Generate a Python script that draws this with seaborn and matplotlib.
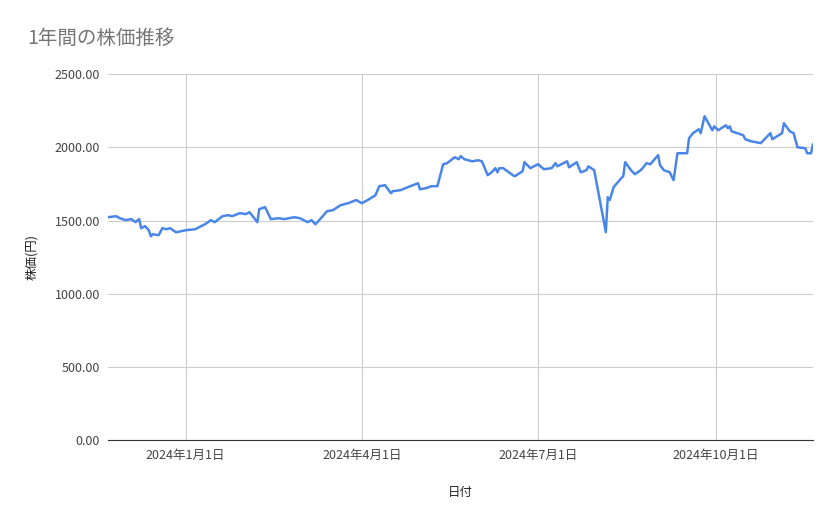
import matplotlib
matplotlib.use("Agg")
import matplotlib.pyplot as plt
import matplotlib.dates as mdates
import seaborn as sns
import pandas as pd

dates = ["2023-11-22","2023-11-26","2023-11-28","2023-12-01","2023-12-04","2023-12-06","2023-12-08","2023-12-09",
"2023-12-11","2023-12-13","2023-12-14","2023-12-15","2023-12-18","2023-12-20","2023-12-22","2023-12-24","2023-12-27",
"2024-01-01","2024-01-06","2024-01-09","2024-01-11","2024-01-14","2024-01-16","2024-01-20","2024-01-23","2024-01-25",
"2024-01-29","2024-02-01","2024-02-03","2024-02-07","2024-02-08","2024-02-11","2024-02-14","2024-02-18","2024-02-21",
"2024-02-26","2024-02-29","2024-03-04","2024-03-06","2024-03-08","2024-03-10","2024-03-14","2024-03-17","2024-03-21",
"2024-03-25","2024-03-29","2024-04-01","2024-04-04","2024-04-08","2024-04-10","2024-04-13","2024-04-16","2024-04-17",
"2024-04-21","2024-04-26","2024-04-30","2024-05-01","2024-05-04","2024-05-07","2024-05-10","2024-05-13","2024-05-15",
"2024-05-19","2024-05-21","2024-05-22","2024-05-24","2024-05-28","2024-05-31","2024-06-02","2024-06-05","2024-06-07",
"2024-06-09","2024-06-10","2024-06-11","2024-06-13","2024-06-18","2024-06-19","2024-06-23","2024-06-24","2024-06-27",
"2024-07-01","2024-07-04","2024-07-08","2024-07-10","2024-07-11","2024-07-16","2024-07-17","2024-07-21","2024-07-23",
"2024-07-26","2024-07-27","2024-07-30","2024-08-05","2024-08-06","2024-08-07","2024-08-09","2024-08-13","2024-08-14",
"2024-08-15","2024-08-18","2024-08-20","2024-08-23","2024-08-24","2024-08-26","2024-08-28","2024-09-01","2024-09-02",
"2024-09-04","2024-09-07","2024-09-09","2024-09-11","2024-09-16","2024-09-17","2024-09-19","2024-09-22","2024-09-23",
"2024-09-25","2024-09-29","2024-09-30","2024-10-02","2024-10-06","2024-10-07","2024-10-08","2024-10-09","2024-10-15",
"2024-10-16","2024-10-19","2024-10-24","2024-10-29","2024-10-30","2024-11-04","2024-11-05","2024-11-08","2024-11-10",
"2024-11-12","2024-11-16","2024-11-17","2024-11-19","2024-11-20"]
prices = [1523,1530,1516,1503,1510,1489,1510,1448,
1462,1434,1393,1407,1400,1448,1441,1448,1420,
1434,1441,1462,1475,1503,1489,1530,1537,1530,
1551,1544,1557,1489,1578,1592,1510,1516,1510,
1523,1516,1489,1503,1475,1503,1564,1571,1605,
1619,1640,1619,1640,1673,1735,1742,1687,1701,
1708,1735,1755,1714,1721,1735,1735,1885,1892,
1933,1919,1940,1919,1905,1912,1905,1810,1830,
1858,1830,1858,1858,1810,1803,1837,1899,1858,
1885,1851,1858,1892,1871,1905,1864,1899,1830,
1844,1871,1844,1421,1660,1640,1728,1790,1803,
1899,1844,1817,1844,1858,1892,1885,1947,1878,
1844,1830,1776,1960,1960,2063,2097,2124,2097,
2213,2117,2144,2117,2151,2131,2144,2110,2083,
2056,2042,2029,2097,2056,2097,2165,2110,2097,
2001,1994,1960,1960,2022]
yticks = [0, 500, 1000, 1500, 2000, 2500]
xticks = ["2024-01-01", "2024-04-01", "2024-07-01", "2024-10-01"]
xticklabels = ["2024年1月1日", "2024年4月1日", "2024年7月1日", "2024年10月1日"]

sns.set_style("white")
plt.rcParams['font.family'] = ['Noto Sans CJK JP', 'DejaVu Sans']

df = pd.DataFrame({"日付": pd.to_datetime(dates), "株価": prices})
fig = plt.figure(figsize=(8.39, 5.19), dpi=100)
ax = fig.add_axes([0.129, 0.152, 0.840, 0.705])
sns.lineplot(data=df, x="日付", y="株価", ax=ax, color="#4a86e8", linewidth=1.8)

ax.set_xlim(pd.Timestamp("2023-11-22"), pd.Timestamp("2024-11-20"))
ax.set_ylim(0, 2500)
ax.set_yticks(yticks)
ax.set_yticklabels([f"{v:.2f}" for v in yticks], color="#444444", fontsize=9)
ax.set_xticks(pd.to_datetime(xticks))
ax.set_xticklabels(xticklabels, color="#444444", fontsize=9)
ax.grid(True, color="#cccccc", linewidth=0.8)
ax.tick_params(length=0, pad=6)
for s in ["top", "right", "left"]:
    ax.spines[s].set_visible(False)
ax.spines["bottom"].set_color("#333333")
ax.set_xlabel("日付", fontsize=9, color="#222222", labelpad=18)
ax.set_ylabel("株価(円)", fontsize=9, color="#222222", labelpad=12)
fig.text(0.033, 0.925, "1年間の株価推移", fontsize=14, color="#757575", va="center")
fig.savefig("out.png", dpi=100)
